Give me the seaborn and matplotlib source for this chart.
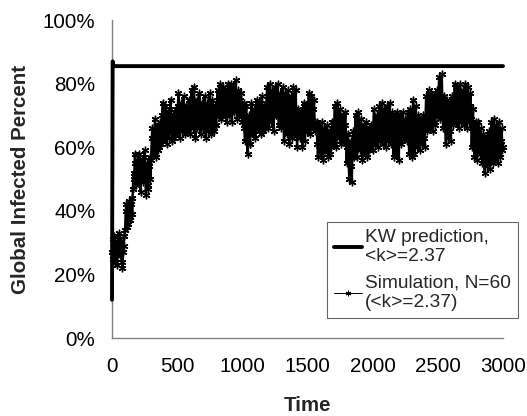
import numpy as np
import pandas as pd
import matplotlib
matplotlib.use("Agg")
import matplotlib.pyplot as plt
import seaborn as sns
from matplotlib.ticker import PercentFormatter

# ---- data ----
kw_time = [0, 5, 10, 3000]
kw_value = [0.12, 0.87, 0.855, 0.855]

sim_pct = [
    27, 31, 25, 32, 29, 24, 30, 26, 23, 32, 33, 28, 26, 31, 30, 24, 22, 27, 29, 32,
    34, 40, 42, 35, 36, 41, 43, 37, 38, 42, 44, 39, 47, 52, 50, 58, 55, 48, 56, 51,
    49, 55, 58, 50, 46, 53, 56, 49, 50, 57, 59, 52, 45, 51, 55, 47, 48, 54, 57, 50,
    56, 63, 66, 58, 58, 65, 69, 60, 57, 64, 67, 59, 60, 66, 68, 61, 62, 70, 74, 64,
    63, 70, 73, 64, 61, 68, 71, 63, 65, 72, 75, 66, 62, 69, 70, 63, 64, 71, 72, 65,
    65, 73, 77, 67, 63, 71, 74, 65, 67, 73, 76, 66, 64, 70, 73, 65, 66, 72, 75, 68,
    64, 72, 78, 68, 66, 74, 79, 70, 63, 70, 75, 66, 68, 74, 77, 69, 64, 71, 74, 66,
    66, 72, 76, 67, 63, 70, 74, 65, 67, 73, 77, 68, 64, 71, 75, 66, 65, 70, 73, 67,
    67, 74, 78, 70, 70, 76, 80, 72, 69, 75, 79, 71, 71, 75, 78, 70, 68, 76, 80, 72,
    70, 76, 80, 71, 68, 75, 79, 71, 72, 77, 81, 73, 69, 75, 78, 70, 71, 75, 77, 70,
    68, 72, 74, 66, 62, 69, 73, 64, 58, 65, 70, 61, 61, 68, 74, 66, 64, 69, 72, 65,
    63, 70, 75, 67, 66, 71, 74, 66, 64, 71, 76, 68, 65, 70, 73, 66, 67, 74, 79, 70,
    66, 74, 80, 71, 68, 74, 78, 70, 65, 73, 79, 70, 70, 76, 80, 72, 67, 73, 77, 69,
    66, 73, 79, 68, 62, 70, 77, 67, 64, 72, 78, 68, 61, 69, 76, 66, 63, 72, 79, 69,
    64, 72, 78, 67, 60, 67, 72, 64, 63, 68, 71, 64, 60, 68, 74, 65, 62, 68, 73, 65,
    65, 72, 77, 68, 64, 71, 76, 67, 66, 72, 75, 68, 65, 67, 68, 61, 57, 62, 67, 60,
    58, 64, 68, 60, 56, 62, 66, 59, 59, 64, 67, 60, 57, 62, 65, 58, 60, 65, 68, 61,
    61, 68, 73, 64, 60, 67, 74, 65, 63, 69, 72, 64, 61, 66, 70, 63, 62, 67, 71, 64,
    55, 60, 64, 56, 50, 57, 62, 54, 49, 58, 65, 57, 58, 64, 70, 61, 57, 65, 71, 62,
    59, 65, 69, 60, 56, 62, 67, 59, 58, 64, 68, 60, 57, 62, 66, 59, 60, 64, 67, 61,
    59, 67, 72, 63, 61, 66, 70, 63, 60, 68, 73, 64, 62, 69, 74, 65, 61, 67, 72, 64,
    60, 67, 73, 64, 62, 69, 74, 65, 61, 66, 71, 63, 57, 64, 70, 61, 58, 65, 71, 62,
    56, 64, 70, 61, 62, 67, 71, 64, 63, 67, 69, 64, 62, 67, 71, 63, 58, 66, 72, 62,
    57, 66, 75, 64, 58, 66, 73, 63, 60, 66, 70, 62, 59, 65, 69, 62, 61, 66, 70, 63,
    60, 69, 76, 67, 65, 72, 78, 70, 66, 72, 77, 69, 65, 71, 76, 68, 67, 73, 78, 70,
    70, 77, 82, 73, 69, 76, 83, 74, 66, 71, 76, 68, 61, 68, 75, 66, 63, 69, 74, 65,
    62, 70, 76, 68, 67, 74, 80, 71, 68, 74, 79, 71, 66, 73, 80, 70, 68, 74, 78, 70,
    67, 74, 80, 71, 66, 73, 79, 70, 68, 73, 77, 69, 60, 66, 72, 63, 57, 63, 68, 60,
    56, 62, 68, 59, 58, 63, 66, 59, 55, 60, 64, 57, 52, 58, 63, 55, 54, 60, 65, 57,
    53, 61, 68, 59, 55, 63, 69, 60, 56, 62, 67, 59, 55, 62, 68, 60, 57, 62, 66, 59,
    60,
]
sim_time = np.arange(0, 5 * len(sim_pct), 5)
sim_value = np.array(sim_pct) / 100.0

x_ticks = [0, 500, 1000, 1500, 2000, 2500, 3000]
y_ticks = [0, 0.2, 0.4, 0.6, 0.8, 1.0]

kw_label = "KW prediction,\n<k>=2.37"
sim_label = "Simulation, N=60\n(<k>=2.37)"

# ---- plot ----
sns.set_theme(style="white")
plt.rcParams['font.family'] = ['Liberation Sans', 'DejaVu Sans']
FS = 14.8
LFS = 13.8

fig = plt.figure(figsize=(5.27, 4.16), dpi=100)
ax = fig.add_axes([112 / 527, 1 - 338 / 416, 391 / 527, 318 / 416])

kw_df = pd.DataFrame({"Time": kw_time, "Value": kw_value})
sim_df = pd.DataFrame({"Time": sim_time, "Value": sim_value})

sns.lineplot(data=kw_df, x="Time", y="Value", ax=ax, color="black",
             linewidth=2.8, estimator=None, sort=False, label=kw_label,
             clip_on=False, zorder=3)
sns.lineplot(data=sim_df, x="Time", y="Value", ax=ax, color="black",
             linewidth=1.7, estimator=None, sort=False, label=sim_label,
             marker=(6, 2, 0), markersize=5.5, markeredgewidth=1.0,
             markeredgecolor="black", clip_on=False)

ax.set_xlim(0, 3000)
ax.set_ylim(0, 1.0)
ax.set_xticks(x_ticks)
ax.set_yticks(y_ticks)
ax.yaxis.set_major_formatter(PercentFormatter(1.0, decimals=0))
ax.tick_params(axis="both", length=0, labelsize=FS, colors="black")
ax.tick_params(axis="x", pad=14)
ax.tick_params(axis="y", pad=12)

for s in ["top", "right"]:
    ax.spines[s].set_visible(False)
for s in ["left", "bottom"]:
    ax.spines[s].set_color("#808080")
    ax.spines[s].set_linewidth(1.0)

ax.set_xlabel("Time", fontsize=FS, fontweight="bold", labelpad=14)
ax.set_ylabel("Global Infected Percent", fontsize=FS, fontweight="bold", labelpad=9)

leg = ax.legend(loc="upper left", bbox_to_anchor=(327 / 527, 1 - 222 / 416),
                bbox_transform=fig.transFigure, frameon=True, fancybox=False,
                fontsize=LFS, handlelength=1.5, handletextpad=0.15,
                borderpad=0.35, labelspacing=0.5, borderaxespad=0)
leg.get_frame().set_edgecolor("#404040")
leg.get_frame().set_linewidth(0.8)
leg.set_zorder(5)
for line in leg.get_lines():
    if line.get_linewidth() < 2:
        line.set_linewidth(0.7)
        line.set_markeredgewidth(0.7)
    line.set_markersize(4)

fig.savefig("out.png", dpi=100)
